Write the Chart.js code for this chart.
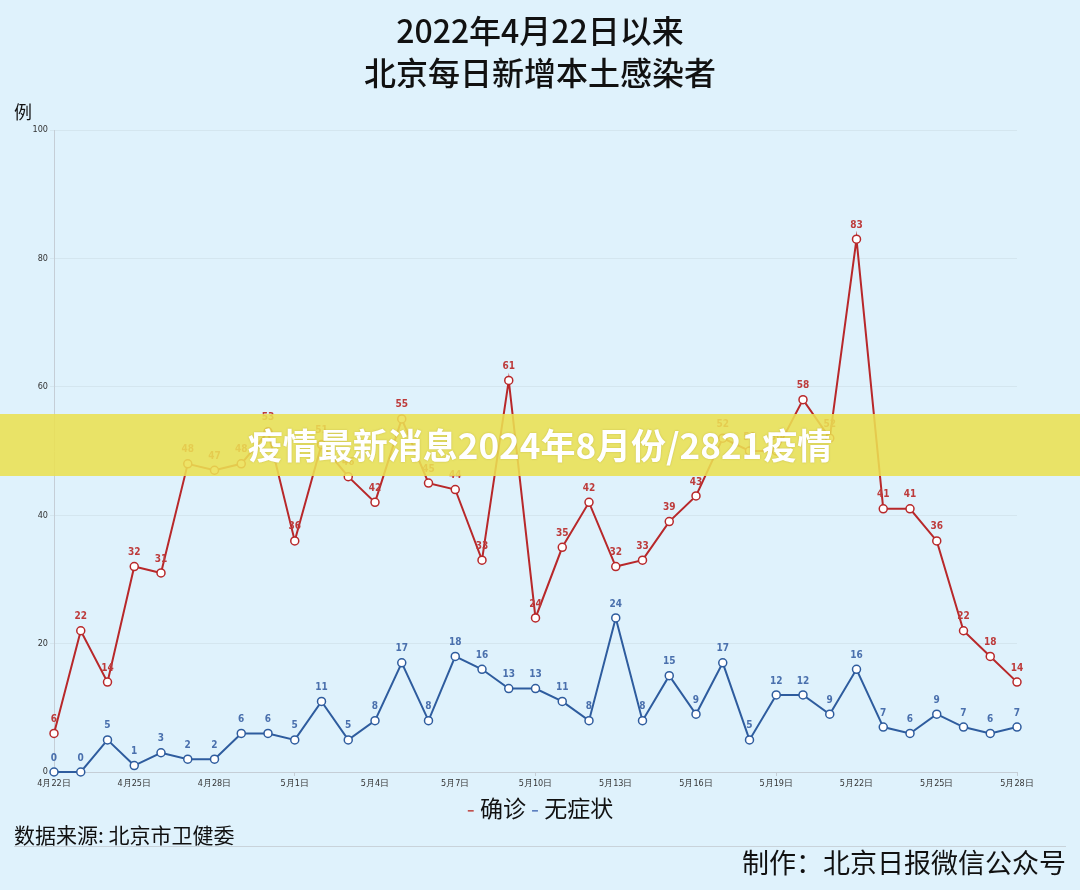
<!DOCTYPE html>
<html>
<head>
<meta charset="utf-8">
<script src="https://cdn.jsdelivr.net/npm/chart.js@4.4.1/dist/chart.umd.min.js"></script>
<style>
  html, body { margin: 0; padding: 0; }
  body { width: 1080px; height: 890px; background: #dff2fc; position: relative; overflow: hidden;
         font-family: "Noto Sans CJK SC", "Noto Sans", sans-serif; color: #111; }
  #chart { position: absolute; left: 0; top: 0; }
  .txt { position: absolute; white-space: nowrap; line-height: 1; }
  .title { left: 0; width: 1080px; text-align: center; font-size: 32px; font-weight: 500; }
  .banner { position: absolute; left: 0; top: 414px; width: 1080px; height: 62px;
            background: rgba(234, 224, 82, 0.88); }
  .banner span { position: absolute; left: 0; width: 1080px; top: 12px; text-align: center;
                 font-size: 35px; font-weight: bold; color: #fff; line-height: 1;
                 text-shadow: 0 0 2px rgba(120,110,20,0.35); }
  .sep { position: absolute; left: 14px; width: 1052px; top: 846px; height: 1px; background: #c9d3da; }
</style>
</head>
<body>
<canvas id="chart" width="1080" height="890"></canvas>

<div class="txt title" style="top:13px">2022年4月22日以来</div>
<div class="txt title" style="top:55px">北京每日新增本土感染者</div>
<div class="txt" style="left:14px; top:102px; font-size:18px;">例</div>

<div class="txt" style="left:0; width:1080px; text-align:center; top:796px; font-size:23px;">
  <span style="color:#c0504d">-</span> 确诊 <span style="color:#5b7fbf">-</span> 无症状
</div>
<div class="txt" style="left:14px; top:824px; font-size:21px;">数据来源: 北京市卫健委</div>
<div class="sep"></div>
<div class="txt" style="right:14px; top:848px; font-size:27px;">制作：北京日报微信公众号</div>

<div class="banner"><span>疫情最新消息2024年8月份/2821疫情</span></div>

<script>
const days = [
  "4月22日","4月23日","4月24日","4月25日","4月26日","4月27日","4月28日","4月29日","4月30日",
  "5月1日","5月2日","5月3日","5月4日","5月5日","5月6日","5月7日","5月8日","5月9日","5月10日",
  "5月11日","5月12日","5月13日","5月14日","5月15日","5月16日","5月17日","5月18日","5月19日",
  "5月20日","5月21日","5月22日","5月23日","5月24日","5月25日","5月26日","5月27日","5月28日"
];
const confirmed = [6,22,14,32,31,48,47,48,53,36,51,46,42,55,45,44,33,61,24,35,42,32,33,39,43,52,50,50,58,52,83,41,41,36,22,18,14];
const asymptomatic = [0,0,5,1,3,2,2,6,6,5,11,5,8,17,8,18,16,13,13,11,8,24,8,15,9,17,5,12,12,9,16,7,6,9,7,6,7];
const yTicks = [0,20,40,60,80,100];

const red = "#b8282a", blue = "#2e5c9e";

// value above every point
const valueLabels = {
  id: "valueLabels",
  afterDatasetsDraw(chart) {
    const ctx = chart.ctx;
    ctx.save();
    ctx.font = "bold 10px 'DejaVu Sans Condensed', 'DejaVu Sans', sans-serif";
    ctx.textAlign = "center";
    ctx.textBaseline = "middle";
    chart.data.datasets.forEach((ds, i) => {
      ctx.fillStyle = ds.labelColor;
      chart.getDatasetMeta(i).data.forEach((pt, j) => {
        ctx.fillText(String(ds.data[j]), pt.x, pt.y - 14);
      });
    });
    ctx.restore();
  }
};

new Chart(document.getElementById("chart"), {
  type: "line",
  data: {
    labels: days,
    datasets: [
      { label: "确诊", data: confirmed, borderColor: red, labelColor: "#bd3b3b",
        borderWidth: 2, pointRadius: 4, pointBorderWidth: 1.5, pointBackgroundColor: "#fff",
        pointBorderColor: red, tension: 0, clip: false },
      { label: "无症状", data: asymptomatic, borderColor: blue, labelColor: "#4a70ad",
        borderWidth: 2, pointRadius: 4, pointBorderWidth: 1.5, pointBackgroundColor: "#fff",
        pointBorderColor: blue, tension: 0, clip: false }
    ]
  },
  options: {
    responsive: false,
    animation: false,
    layout: { padding: { left: 0, top: 130, right: 63, bottom: 98 } },
    plugins: { legend: { display: false }, tooltip: { enabled: false } },
    scales: {
      x: {
        offset: false,
        afterFit: s => { s.height = 20; },
        border: { color: "#c5ced6" },
        grid: { drawOnChartArea: false, tickLength: 4,
                color: c => (c.index % 3 === 0 ? "#c5ced6" : "transparent") },
        ticks: { autoSkip: false, maxRotation: 0, padding: 2, color: "#333",
                 font: { size: 9, family: "'DejaVu Sans Condensed', 'DejaVu Sans', sans-serif" },
                 callback: (v, i) => (i % 3 === 0 ? days[i] : null) }
      },
      y: {
        min: 0, max: 100,
        afterFit: s => { s.width = 54; },
        afterBuildTicks: s => { s.ticks = yTicks.map(v => ({ value: v })); },
        border: { color: "#c5ced6" },
        grid: { color: "rgba(200,214,224,0.45)", tickLength: 4 },
        ticks: { padding: 2, color: "#333",
                 font: { size: 9, family: "'DejaVu Sans Condensed', 'DejaVu Sans', sans-serif" } }
      }
    }
  },
  plugins: [valueLabels]
});
</script>
</body>
</html>
